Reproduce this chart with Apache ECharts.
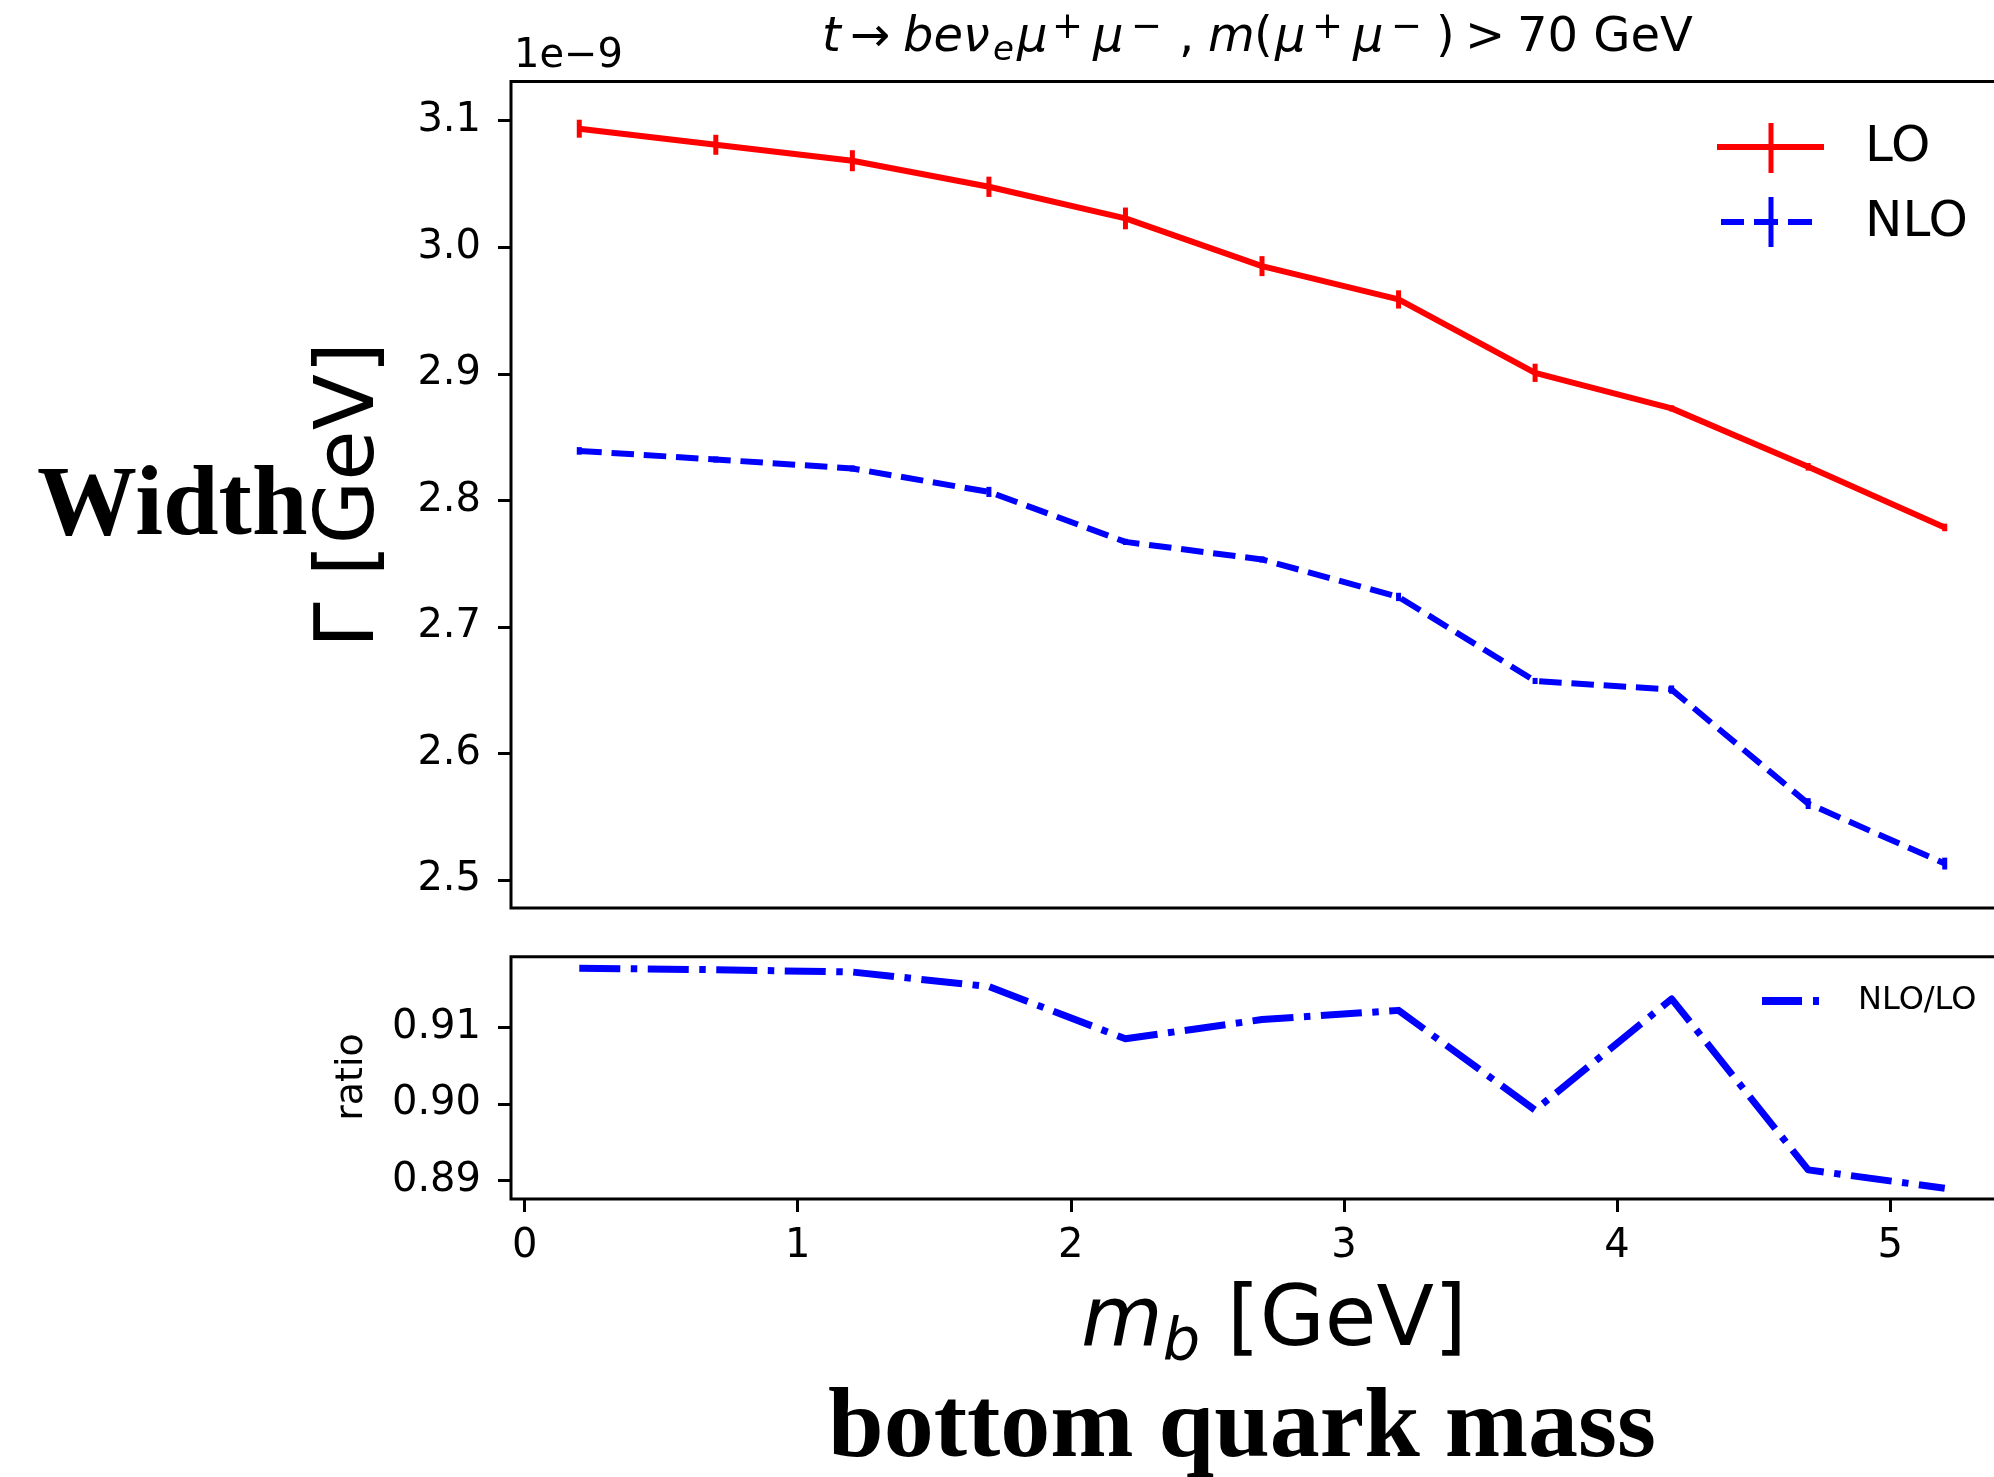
<!DOCTYPE html>
<html><head><meta charset="utf-8">
<script src="https://cdn.jsdelivr.net/npm/echarts@6/dist/echarts.min.js"></script>
<style>html,body{margin:0;padding:0;background:#fff}#c{width:1994px;height:1477px}</style>
</head><body><div id="c"></div>
<script>
// ---- data (widths in units of 1e-9 GeV) ----
const mb = [0.2, 0.7, 1.2, 1.7, 2.2, 2.7, 3.2, 3.7, 4.2, 4.7, 5.2];
const widthLO = [3.0937, 3.0810, 3.0684, 3.0478, 3.0228, 2.9851, 2.9588, 2.9008, 2.8727, 2.8265, 2.7786];
const errLO = [0.0071, 0.0079, 0.0083, 0.0080, 0.0086, 0.0079, 0.0072, 0.0072, 0.0024, 0.0030, 0.0030];
const widthNLO = [2.8391, 2.8323, 2.8252, 2.8067, 2.7672, 2.7533, 2.7237, 2.6573, 2.6505, 2.5604, 2.5130];
const errNLO = [0.0030, 0.0024, 0.0024, 0.0040, 0.0024, 0.0024, 0.0033, 0.0024, 0.0033, 0.0043, 0.0047];
const ratioNLOLO = [0.9177, 0.9175, 0.9172, 0.9153, 0.9085, 0.9110, 0.9122, 0.8992, 0.9137, 0.8914, 0.8890];
const xTicks = [0, 1, 2, 3, 4, 5];
const yTicksMain = [2.5, 2.6, 2.7, 2.8, 2.9, 3.0, 3.1];
const yTicksRatio = [0.89, 0.90, 0.91];
const seriesNames = ['LO', 'NLO', 'NLO/LO'];

// ---- layout ----
const GL = 511, GW = 1502;
const G1T = 81.5, G1H = 826.5;
const G2T = 956.7, G2H = 242.3;
const SANS = '"DejaVu Sans"';
const SERIF = '"Liberation Serif"';

const mctx = document.createElement('canvas').getContext('2d');
function seq(cx, base, parts, align) {
  const items = [];
  let x = 0;
  for (const p of parts) {
    const [t, size, it, dy] = p;
    const font = (it ? 'italic ' : '') + size + 'px ' + SANS;
    mctx.font = font;
    items.push({t, size, font, dy: dy || 0, x});
    x += mctx.measureText(t).width;
  }
  const x0 = align === 'left' ? cx : cx - x / 2;
  return items.map(o => ({
    type: 'text', x: x0 + o.x, y: base + o.dy - 0.346 * o.size, silent: true, z: 100,
    style: {text: o.t, font: o.font, fill: '#000', align: 'left', verticalAlign: 'middle'}
  }));
}
// tokens placed at given left positions
function place(base, parts) {
  return parts.map(([t, x, size, it, dy]) => {
    const font = (it ? 'italic ' : '') + size + 'px ' + SANS;
    return {type: 'text', x: x - 2, y: base + (dy || 0) - 0.346 * size, silent: true, z: 100,
      style: {text: t, font, fill: '#000', align: 'left', verticalAlign: 'middle'}};
  });
}

const SUP = -14, SUB = 8, M = 48, S = 37;
const titleEls = place(55, [
  ['t', 824, M, true], ['\u2192', 852, M, false], ['be\u03bd', 905, M, true], ['e', 995, 34, true, SUB],
  ['\u03bc', 1019, M, true], ['+', 1054, S, false, SUP], ['\u03bc', 1095, M, true], ['\u2212', 1133, S, false, SUP],
  [',', 1181, M, false], ['m', 1210, M, true], ['(', 1256, M, false], ['\u03bc', 1277, M, true],
  ['+', 1314, S, false, SUP], ['\u03bc', 1355, M, true], ['\u2212', 1393, S, false, SUP],
  [')', 1438, M, false], ['>', 1467, M, false], ['70 GeV', 1519, M, false]
]);
const xlabEls = seq(1081, 1352, [['m', 84, true], ['b', 59, true, 13], [' [GeV]', 84, false]], 'left');

function txt(x, y, t, font, align, rot) {
  return {type: 'text', x, y, rotation: rot || 0, silent: true, z: 100,
    style: {text: t, font, fill: '#000', align: align || 'left', verticalAlign: 'middle'}};
}
function seg(x1, y1, x2, y2, color, w) {
  return {type: 'line', silent: true, z: 100, shape: {x1, y1, x2, y2}, style: {stroke: color, lineWidth: w}};
}

const graphics = [].concat(titleEls, xlabEls, [
  txt(514, 70 - 0.346 * 40, '1e\u22129', '40px ' + SANS),
  txt(351.5, 495, '\u0393 [GeV]', '82px ' + SANS, 'center', Math.PI / 2),
  txt(37, 542 - 0.3375 * 100, 'Width', 'bold 100px ' + SERIF),
  txt(1242, 1464 - 0.3375 * 100, 'bottom quark mass', 'bold 100px ' + SERIF, 'center'),
  txt(352, 1077, 'ratio', '38px ' + SANS, 'center', Math.PI / 2),
  // legend main
  seg(1717, 147, 1824, 147, '#ff0000', 6),
  seg(1771, 123, 1771, 173, '#ff0000', 5),
  txt(1865, 165 - 0.346 * 50, seriesNames[0], '50px ' + SANS),
  seg(1721, 222, 1744, 222, '#0000ff', 6),
  seg(1754, 222, 1778, 222, '#0000ff', 6),
  seg(1788, 222, 1812, 222, '#0000ff', 6),
  seg(1771, 197, 1771, 247, '#0000ff', 5),
  txt(1865, 240 - 0.346 * 50, seriesNames[1], '50px ' + SANS),
  // legend ratio
  seg(1762, 1001, 1802, 1001, '#0000ff', 8),
  seg(1813, 1001, 1819, 1001, '#0000ff', 8),
  txt(1858, 1012 - 0.346 * 32, seriesNames[2], '32px ' + SANS)
]);

function errRender(color) {
  return function (params, api) {
    const x = api.value(0);
    const a = api.coord([x, api.value(1)]);
    const b = api.coord([x, api.value(2)]);
    return {type: 'line', shape: {x1: a[0], y1: a[1], x2: b[0], y2: b[1]},
      style: {stroke: color, lineWidth: 5}};
  };
}

const axisCommon = {axisLine: {show: false, onZero: false}, splitLine: {show: false}};
const tickStyle = {show: true, length: 13, lineStyle: {color: '#000', width: 3}};
const labStyle = {fontSize: 40, fontFamily: 'DejaVu Sans', color: '#000'};

const option = {
  animation: false,
  backgroundColor: '#ffffff',
  grid: [
    {left: GL, top: G1T, width: GW, height: G1H, show: true, borderColor: '#000', borderWidth: 3,
      backgroundColor: 'transparent', outerBoundsMode: 'none', containLabel: false},
    {left: GL, top: G2T, width: GW, height: G2H, show: true, borderColor: '#000', borderWidth: 3,
      backgroundColor: 'transparent', outerBoundsMode: 'none', containLabel: false}
  ],
  xAxis: [
    Object.assign({gridIndex: 0, type: 'value', min: -0.05, max: 5.45,
      axisTick: {show: false}, axisLabel: {show: false}}, axisCommon),
    Object.assign({gridIndex: 1, type: 'value', min: -0.05, max: 5.45,
      axisTick: Object.assign({customValues: xTicks}, tickStyle),
      axisLabel: Object.assign({customValues: xTicks, margin: 28, formatter: v => String(v)}, labStyle)}, axisCommon)
  ],
  yAxis: [
    Object.assign({gridIndex: 0, type: 'value', min: 2.4779, max: 3.131,
      axisTick: Object.assign({customValues: yTicksMain}, tickStyle),
      axisLabel: Object.assign({customValues: yTicksMain, margin: 30, formatter: v => Number(v).toFixed(1)}, labStyle)}, axisCommon),
    Object.assign({gridIndex: 1, type: 'value', min: 0.8876, max: 0.9192,
      axisTick: Object.assign({customValues: yTicksRatio}, tickStyle),
      axisLabel: Object.assign({customValues: yTicksRatio, margin: 30, formatter: v => Number(v).toFixed(2)}, labStyle)}, axisCommon)
  ],
  series: [
    {name: seriesNames[0], type: 'line', xAxisIndex: 0, yAxisIndex: 0, symbol: 'none', showSymbol: false,
      data: mb.map((x, i) => [x, widthLO[i]]),
      lineStyle: {color: '#ff0000', width: 6, join: 'round'}, z: 3},
    {type: 'custom', xAxisIndex: 0, yAxisIndex: 0, renderItem: errRender('#ff0000'), encode: {x: 0, y: [1, 2]},
      data: mb.map((x, i) => [x, widthLO[i] - errLO[i], widthLO[i] + errLO[i]]), z: 4},
    {name: seriesNames[1], type: 'line', xAxisIndex: 0, yAxisIndex: 0, symbol: 'none', showSymbol: false,
      data: mb.map((x, i) => [x, widthNLO[i]]),
      lineStyle: {color: '#0000ff', width: 6, type: [22.5, 9.8], join: 'round'}, z: 3},
    {type: 'custom', xAxisIndex: 0, yAxisIndex: 0, renderItem: errRender('#0000ff'), encode: {x: 0, y: [1, 2]},
      data: mb.map((x, i) => [x, widthNLO[i] - errNLO[i], widthNLO[i] + errNLO[i]]), z: 4},
    {name: seriesNames[2], type: 'line', xAxisIndex: 1, yAxisIndex: 1, symbol: 'none', showSymbol: false,
      data: mb.map((x, i) => [x, ratioNLOLO[i]]),
      lineStyle: {color: '#0000ff', width: 7, type: [41, 10.5, 6.5, 10.5], join: 'round'}, z: 3}
  ],
  graphic: graphics
};

const chart = echarts.init(document.getElementById('c'), null, {renderer: 'canvas', width: 1994, height: 1477});
chart.setOption(option);
</script>
</body></html>
